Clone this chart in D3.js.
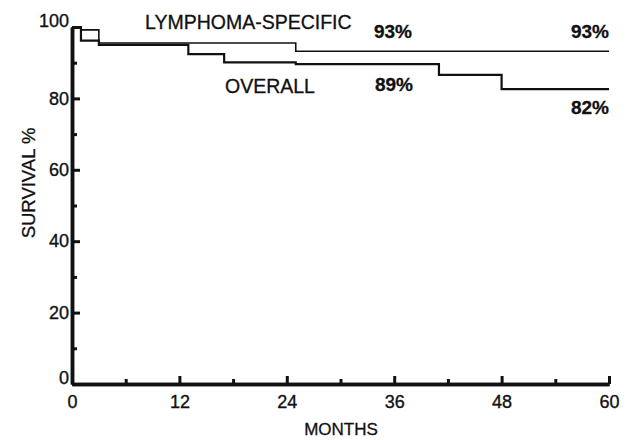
<!DOCTYPE html>
<html><head><meta charset="utf-8">
<script src="https://cdn.jsdelivr.net/npm/d3@7"></script>
<style>body{margin:0;background:#fff}svg{display:block}text{font-family:"Liberation Sans",Arial,sans-serif;fill:#111}</style>
</head><body>
<svg id="c" width="626" height="440"></svg>
<script>
// Kaplan-Meier step data (month, survival %)
const lymphomaMonths = [0, 1, 3, 25, 60];
const lymphomaValues = [100, 99.2, 95.5, 93.2, 93.2];
const overallMonths = [0, 1, 3, 13, 17, 25, 41, 48, 60];
const overallValues = [100, 96.2, 95.0, 92.4, 90.1, 89.6, 86.6, 82.6, 82.6];
const xMajorTicks = [0, 12, 24, 36, 48, 60];
const xMinorTicks = [6, 18, 30, 42, 54];
const yMajorTicks = [0, 20, 40, 60, 80, 100];
const yMinorTicks = [10, 30, 50, 70, 90];
const curveLabels = ["LYMPHOMA-SPECIFIC", "OVERALL"];
const pctLabels = ["93%", "93%", "89%", "82%"];

const svg = d3.select("#c");
const x = d3.scaleLinear([0, 60], [72, 609]);
const y = d3.scaleLinear([0, 100], [384, 27]);

const line = d3.line().x(d => x(d[0])).y(d => y(d[1])).curve(d3.curveStepAfter);
const lym = lymphomaMonths.map((m, i) => [m, lymphomaValues[i]]);
const ove = overallMonths.map((m, i) => [m, overallValues[i]]);

svg.append("path").attr("d", line(lym)).style("fill", "none").style("stroke", "#111").style("stroke-width", "1.6px");
svg.append("path").attr("d", line(ove)).style("fill", "none").style("stroke", "#111").style("stroke-width", "2.2px");

// axes
const xAxis = svg.append("g").attr("transform", `translate(0,${y(0)})`)
  .call(d3.axisBottom(x).tickValues(xMajorTicks).tickSize(-8).tickSizeOuter(0).tickPadding(11).tickFormat(d3.format("d")));
const xMinor = svg.append("g").attr("transform", `translate(0,${y(0)})`)
  .call(d3.axisBottom(x).tickValues(xMinorTicks).tickSize(-5).tickSizeOuter(0).tickFormat(""));
const yAxis = svg.append("g").attr("transform", `translate(${x(0)},0)`)
  .call(d3.axisLeft(y).tickValues(yMajorTicks).tickSize(-8).tickSizeOuter(0).tickPadding(3).tickFormat(d3.format("d")));
const yMinor = svg.append("g").attr("transform", `translate(${x(0)},0)`)
  .call(d3.axisLeft(y).tickValues(yMinorTicks).tickSize(-5).tickSizeOuter(0).tickFormat(""));

[xAxis, xMinor, yAxis, yMinor].forEach(g => {
  g.select(".domain").style("stroke", "#111").style("stroke-width", "3.5px");
  g.selectAll(".tick line").style("stroke", "#111").style("stroke-width", "3px");
  g.selectAll(".tick text").style("font-size", "18px").style("font-family", "Liberation Sans, Arial, sans-serif")
    .style("fill", "#111").style("stroke", "#111").style("stroke-width", "0.35px");
});
yAxis.selectAll(".tick text").filter(d => d === 0 || d === 100).attr("dy", "-0.05em");

// labels
const lab = (t, px, py, size, anchor, weight) => svg.append("text").attr("x", px).attr("y", py)
  .attr("font-size", size).attr("text-anchor", anchor).attr("font-weight", weight)
  .style("stroke", "#111").style("stroke-width", "0.3px").text(t);
lab(curveLabels[0], 145, 29, 19.5, "start", "normal");
lab(curveLabels[1], 225, 93, 19.5, "start", "normal");
const pctPos = [[412, 38], [609, 38], [413, 91], [609, 114]];
pctLabels.forEach((t, i) => lab(t, pctPos[i][0], pctPos[i][1], 19, "end", "bold"));
lab("MONTHS", 341, 435, 17, "middle", "normal");
svg.append("text").attr("transform", "translate(35,183) rotate(-90)").attr("text-anchor", "middle")
  .attr("font-size", 18.5).style("stroke", "#111").style("stroke-width", "0.3px").text("SURVIVAL %");
</script>
</body></html>
